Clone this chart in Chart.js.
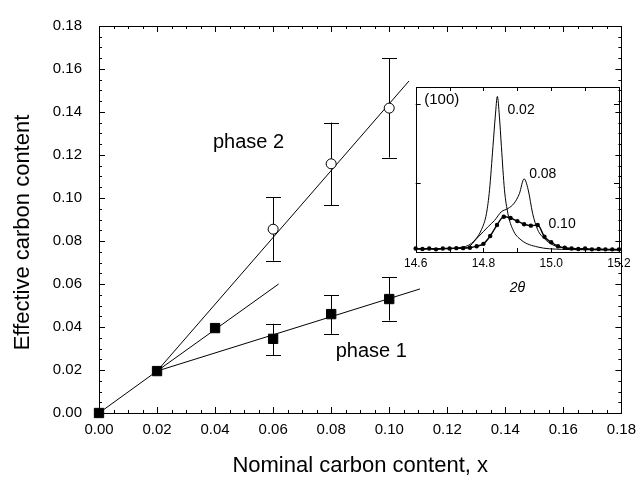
<!DOCTYPE html>
<html><head><meta charset="utf-8">
<script src="https://cdn.jsdelivr.net/npm/chart.js@4.4.0/dist/chart.umd.min.js"></script>
<style>
html,body{margin:0;padding:0;background:#fff;}
#wrap{position:relative;width:644px;height:484px;overflow:hidden;}
#main{position:absolute;left:0;top:0;}
#inset{position:absolute;left:400px;top:80px;}
</style></head><body>
<div id="wrap"><canvas id="main" width="644" height="484"></canvas><canvas id="inset" width="235" height="225"></canvas></div>
<script>
// ---------- main chart data ----------
const xTickLabels = ['0.00','0.02','0.04','0.06','0.08','0.10','0.12','0.14','0.16','0.18'];
const yTickLabels = ['0.00','0.02','0.04','0.06','0.08','0.10','0.12','0.14','0.16','0.18'];

const phase1X = [0, 0.02, 0.04, 0.06, 0.08, 0.10];
const phase1Y = [0, 0.0195, 0.0395, 0.0345, 0.046, 0.053];
const phase1Low  = [null, null, null, 0.027, 0.0368, 0.043];
const phase1High = [null, null, null, 0.0415, 0.0549, 0.0632];

const phase2X = [0.06, 0.08, 0.10];
const phase2Y = [0.0855, 0.1159, 0.1418];
const phase2Low  = [0.0708, 0.0967, 0.1188];
const phase2High = [0.1003, 0.1351, 0.1649];

const fitOriginX = [0, 0.02],     fitOriginY = [0, 0.0195];
const fitPhase2X = [0.02, 0.1068], fitPhase2Y = [0.0195, 0.1544];
const fitMidX    = [0.02, 0.0619], fitMidY    = [0.0195, 0.0600];
const fitPhase1X = [0.02, 0.1106], fitPhase1Y = [0.0195, 0.0577];

const mainLabels = ['phase 2', 'phase 1'];
const mainLabelX = [0.0515, 0.0938];
const mainLabelY = [0.1259, 0.0286];

// ---------- inset data (XRD (100) peak) ----------
const c002Theta = [14.60,14.65,14.70,14.72,14.755,14.775,14.794,14.809,14.818,14.828,14.835,14.841,14.847,14.853,14.862,14.872,14.887,14.911,14.96,15.03,15.10,15.20];
const c002I     = [0.155,0.158,0.162,0.168,0.20,0.27,0.40,0.61,0.91,1.46,1.85,2.10,1.85,1.46,0.91,0.61,0.40,0.27,0.18,0.15,0.145,0.14];

const c008Theta = [14.60,14.70,14.75,14.785,14.814,14.833,14.853,14.872,14.891,14.906,14.92,14.932,14.945,14.96,14.979,15.008,15.057,15.10,15.20];
const c008I     = [0.155,0.16,0.17,0.31,0.44,0.52,0.63,0.67,0.74,0.86,1.05,0.91,0.61,0.40,0.29,0.20,0.16,0.15,0.145];

const c010Theta = [14.60,14.62,14.64,14.66,14.68,14.70,14.72,14.74,14.76,14.78,14.80,14.82,14.84,14.86,14.88,14.90,14.92,14.94,14.96,14.98,15.00,15.02,15.04,15.06,15.08,15.10,15.12,15.14,15.16,15.18,15.20];
const c010I     = [0.16,0.155,0.16,0.15,0.16,0.16,0.165,0.165,0.17,0.19,0.22,0.32,0.46,0.566,0.55,0.51,0.47,0.452,0.46,0.31,0.24,0.19,0.17,0.16,0.155,0.16,0.15,0.155,0.15,0.15,0.15];

const insetTickLabels = ['14.6','14.8','15.0','15.2'];
const insetLabels = ['(100)','0.02','0.08','0.10'];
const insetLabelX = [14.677, 14.911, 14.975, 15.032];
const insetLabelY = [2.055, 1.927, 1.111, 0.473];

// ---------- helpers ----------
const FONT = '"Liberation Sans", Arial, Helvetica, sans-serif';
Chart.defaults.font.family = FONT;
Chart.defaults.color = '#000';
const pts = (xs, ys) => xs.map((x, i) => ({x, y: ys[i]}));

const lineDS = (xs, ys) => ({
  type: 'line', data: pts(xs, ys), borderColor: '#000', borderWidth: 1,
  pointRadius: 0, fill: false, showLine: true, order: 3, clip: false
});

// ---------- main chart plugin ----------
const mainPlugin = {
  id: 'mainDeco',
  beforeDatasetsDraw(chart) {
    const {ctx, chartArea: a, scales: {x, y}} = chart;
    ctx.save();
    ctx.strokeStyle = '#000';
    ctx.lineWidth = 1;
    ctx.strokeRect(Math.round(a.left) + 0.5, Math.round(a.top) + 0.5,
                   Math.round(a.right - a.left), Math.round(a.bottom - a.top));
    ctx.beginPath();
    for (let i = 0; i <= 36; i++) {
      const v = i * 0.005;
      const len = (i % 4 === 0) ? 6 : 3;
      const px = Math.round(x.getPixelForValue(v)) + 0.5;
      ctx.moveTo(px, a.bottom); ctx.lineTo(px, a.bottom - len);
      ctx.moveTo(px, a.top); ctx.lineTo(px, a.top + len);
      const py = Math.round(y.getPixelForValue(v)) + 0.5;
      ctx.moveTo(a.left, py); ctx.lineTo(a.left + len, py);
      ctx.moveTo(a.right, py); ctx.lineTo(a.right - len, py);
    }
    ctx.stroke();
    // error bars
    const cap = 7.5;
    const drawErr = (xs, lo, hi) => {
      ctx.beginPath();
      xs.forEach((xv, i) => {
        if (lo[i] == null) return;
        const px = Math.round(x.getPixelForValue(xv)) + 0.5;
        const p1 = y.getPixelForValue(lo[i]), p2 = y.getPixelForValue(hi[i]);
        ctx.moveTo(px, p1); ctx.lineTo(px, p2);
        ctx.moveTo(px - cap, Math.round(p1) + 0.5); ctx.lineTo(px + cap, Math.round(p1) + 0.5);
        ctx.moveTo(px - cap, Math.round(p2) + 0.5); ctx.lineTo(px + cap, Math.round(p2) + 0.5);
      });
      ctx.stroke();
    };
    drawErr(phase1X, phase1Low, phase1High);
    drawErr(phase2X, phase2Low, phase2High);
    ctx.restore();
  },
  afterDraw(chart) {
    const {ctx, scales: {x, y}, chartArea: a} = chart;
    ctx.save();
    ctx.fillStyle = '#000';
    ctx.font = '20px ' + FONT;
    ctx.textAlign = 'center';
    ctx.textBaseline = 'middle';
    mainLabels.forEach((t, i) => {
      ctx.fillText(t, x.getPixelForValue(mainLabelX[i]), y.getPixelForValue(mainLabelY[i]));
    });
    // y axis title
    ctx.font = '22px ' + FONT;
    ctx.translate(23, (a.top + a.bottom) / 2 + 13);
    ctx.rotate(-Math.PI / 2);
    ctx.fillText('Effective carbon content', 0, 0);
    ctx.restore();
  }
};

new Chart(document.getElementById('main'), {
  type: 'scatter',
  data: {
    datasets: [
      lineDS(fitOriginX, fitOriginY),
      lineDS(fitPhase2X, fitPhase2Y),
      lineDS(fitMidX, fitMidY),
      lineDS(fitPhase1X, fitPhase1Y),
      { data: pts(phase1X, phase1Y), pointStyle: 'rect', pointRadius: 6.6,
        backgroundColor: '#000', borderColor: '#000', borderWidth: 1, order: 1, clip: false, showLine: false },
      { data: pts(phase2X, phase2Y), pointStyle: 'circle', pointRadius: 5,
        backgroundColor: '#fff', borderColor: '#000', borderWidth: 1, order: 1, clip: false, showLine: false }
    ]
  },
  options: {
    responsive: false, animation: false, devicePixelRatio: 1,
    layout: { padding: { top: 17, right: 17, left: 0, bottom: 0 } },
    plugins: { legend: { display: false }, tooltip: { enabled: false } },
    scales: {
      x: {
        type: 'linear', min: 0, max: 0.18,
        grid: { display: false, drawTicks: false }, border: { display: false },
        ticks: { stepSize: 0.02, padding: 8, font: { size: 15 }, color: '#000', maxRotation: 0,
          callback: (v) => xTickLabels[Math.round(v / 0.02)] },
        title: { display: true, text: 'Nominal carbon content, x', font: { size: 22 }, color: '#000',
          padding: { top: 0, bottom: 5 } },
        afterFit: (s) => { s.height = 71; }
      },
      y: {
        type: 'linear', min: 0, max: 0.18,
        grid: { display: false, drawTicks: false }, border: { display: false },
        ticks: { stepSize: 0.02, padding: 17, font: { size: 15 }, color: '#000',
          callback: (v) => yTickLabels[Math.round(v / 0.02)] },
        afterFit: (s) => { s.width = 99; }
      }
    }
  },
  plugins: [mainPlugin]
});

// ---------- inset chart ----------
const insetPlugin = {
  id: 'insetDeco',
  beforeDatasetsDraw(chart) {
    const {ctx, chartArea: a, scales: {x, y}} = chart;
    ctx.save();
    ctx.strokeStyle = '#000';
    ctx.lineWidth = 1;
    ctx.strokeRect(Math.round(a.left) + 0.5, Math.round(a.top) + 0.5,
                   Math.round(a.right - a.left), Math.round(a.bottom - a.top));
    ctx.beginPath();
    for (let i = 1; i < 6; i++) {
      const px = Math.round(x.getPixelForValue(14.6 + i * 0.1)) + 0.5;
      ctx.moveTo(px, a.bottom); ctx.lineTo(px, a.bottom - 4);
      ctx.moveTo(px, a.top); ctx.lineTo(px, a.top + 4);
    }
    [1, 2].forEach(v => {
      const py = Math.round(y.getPixelForValue(v)) + 0.5;
      ctx.moveTo(a.left, py); ctx.lineTo(a.left + 5, py);
      ctx.moveTo(a.right, py); ctx.lineTo(a.right - 5, py);
    });
    ctx.stroke();
    ctx.restore();
  },
  afterDraw(chart) {
    const {ctx, scales: {x, y}} = chart;
    ctx.save();
    ctx.fillStyle = '#000';
    ctx.textAlign = 'center';
    ctx.textBaseline = 'middle';
    insetLabels.forEach((t, i) => {
      ctx.font = (i === 0 ? '15px ' : '14px ') + FONT;
      ctx.fillText(t, x.getPixelForValue(insetLabelX[i]), y.getPixelForValue(insetLabelY[i]));
    });
    ctx.restore();
  }
};

const curveDS = (xs, ys, dots) => ({
  data: pts(xs, ys), showLine: true, borderColor: '#000', borderWidth: dots ? 1.4 : 1,
  pointRadius: dots ? 2.2 : 0, pointBackgroundColor: '#000', pointBorderWidth: 0,
  cubicInterpolationMode: 'monotone', tension: 0.4, fill: false, clip: false
});

new Chart(document.getElementById('inset'), {
  type: 'scatter',
  data: { datasets: [ curveDS(c002Theta, c002I, false), curveDS(c008Theta, c008I, false), curveDS(c010Theta, c010I, true) ] },
  options: {
    responsive: false, animation: false, devicePixelRatio: 1,
    layout: { padding: { top: 7, right: 16, left: 13, bottom: 0 } },
    plugins: { legend: { display: false }, tooltip: { enabled: false } },
    scales: {
      x: {
        type: 'linear', min: 14.6, max: 15.2,
        grid: { display: false, drawTicks: false }, border: { display: false },
        ticks: { stepSize: 0.2, padding: 4, font: { size: 12 }, color: '#000', maxRotation: 0,
          callback: (v) => insetTickLabels[Math.round((v - 14.6) / 0.2)] },
        title: { display: true, text: '2θ', font: { size: 14, style: 'italic' }, color: '#000',
          padding: { top: 0, bottom: 8 } },
        afterFit: (s) => { s.height = 53; }
      },
      y: { type: 'linear', min: 0.116, max: 2.221, display: false }
    }
  },
  plugins: [insetPlugin]
});
</script>
</body></html>
